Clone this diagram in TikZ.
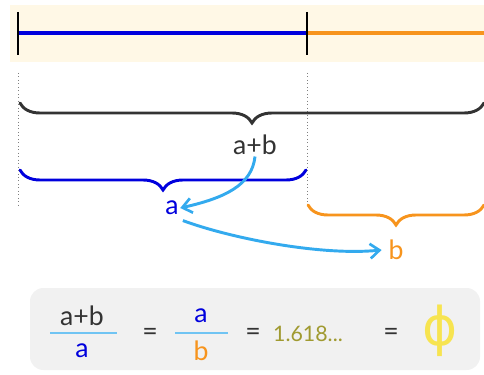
\documentclass[tikz,border=0pt]{standalone}
\usepackage{fontspec}
\setmainfont{Lato}
\newfontfamily\phifont{DejaVu Sans}
\usetikzlibrary{decorations.pathreplacing,arrows.meta}
\definecolor{cream}{HTML}{FFF8E6}
\definecolor{segblue}{HTML}{0000DD}
\definecolor{segorange}{HTML}{F7941D}
\definecolor{arrowblue}{HTML}{33AAEE}
\definecolor{boxgray}{HTML}{F1F1F1}
\definecolor{olive}{HTML}{A09A30}
\definecolor{phiyellow}{HTML}{F7E450}
\definecolor{darktext}{HTML}{333333}
\tikzset{
  lbl/.style={font=\fontsize{20}{22}\selectfont, inner sep=1pt},
  bracestyle/.style={decorate, decoration={brace, mirror, amplitude=#1}, line width=2.2pt, line cap=round},
  tick/.style={line width=1.2pt, black},
  guide/.style={gray, dotted, line width=0.6pt},
  curved/.style={arrowblue, line width=2.2pt, -{Straight Barb[length=7pt,width=11pt,line width=2pt]}},
  fracbar/.style={arrowblue!70, line width=0.8pt},
}
\begin{document}
\begin{tikzpicture}[x=0.75pt,y=-0.75pt]
\useasboundingbox (0,0) rectangle (484,374);
% top band
\fill[cream] (10,5) rectangle (484,62);
\coordinate (L) at (18,33);
\coordinate (M) at (307,33);
\coordinate (R) at (484,33);
\draw[segblue, line width=3pt] (L) -- (M);
\draw[segorange, line width=3pt] (M) -- (R);
\draw[tick] (18,12) -- (18,55);
\draw[tick] (307,12) -- (307,55);
% guides
\draw[guide] (18,73) -- (18,207);
\draw[guide] (307,73) -- (307,205);
% braces
\draw[bracestyle=15pt, darktext] (20,103) -- (484,103);
\draw[bracestyle=15pt, segblue] (20,170) -- (306,170);
\draw[bracestyle=15pt, segorange] (308,205) -- (484,205);
% labels
\node[lbl, text=darktext] (ab) at (255,145) {a+b};
\node[lbl, text=segblue] (a) at (172,208) {a};
\node[lbl, text=segorange] (b) at (396,250) {b};
% arrows
\draw[curved] (ab.south) .. controls (252,185) and (225,198) .. (a.east);
\draw[curved] ([xshift=2pt,yshift=-3pt]a.south east) .. controls (230,238) and (320,256) .. ([xshift=-4pt]b.west);
% formula box
\fill[boxgray, rounded corners=10pt] (30,288) rectangle (480,370);
\node[lbl, text=darktext] (f1n) at (82,316) {a+b};
\node[lbl, text=segblue] (f1d) at (82,351) {a};
\draw[fracbar] (50,333) -- (117,333);
\node[lbl, text=darktext] (eq1) at (150,334) {=};
\node[lbl, text=segblue] (f2n) at (201,316) {a};
\node[lbl, text=segorange] (f2d) at (201,351) {b};
\draw[fracbar] (175,333) -- (228,333);
\node[lbl, text=darktext] (eq2) at (253,334) {=};
\node[font=\fontsize{16}{18}\selectfont, text=olive] (num) at (308,334) {1.618...};
\node[lbl, text=darktext] (eq3) at (391,334) {=};
\node[font=\phifont\fontsize{40}{44}\selectfont, text=phiyellow] (phi) at (440,331) {ϕ};
\end{tikzpicture}
\end{document}
